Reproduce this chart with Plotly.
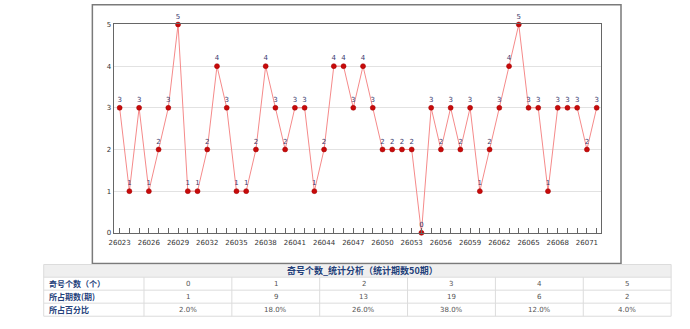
import plotly.graph_objects as go

W, H = 690, 329

periods = [26023, 26024, 26025, 26026, 26027, 26028, 26029, 26030, 26031, 26032,
           26033, 26034, 26035, 26036, 26037, 26038, 26039, 26040, 26041, 26042,
           26043, 26044, 26045, 26046, 26047, 26048, 26049, 26050, 26051, 26052,
           26053, 26054, 26055, 26056, 26057, 26058, 26059, 26060, 26061, 26062,
           26063, 26064, 26065, 26066, 26067, 26068, 26069, 26070, 26071, 26072]
odd_counts = [3, 1, 3, 1, 2, 3, 5, 1, 1, 2,
              4, 3, 1, 1, 2, 4, 3, 2, 3, 3,
              1, 2, 4, 4, 3, 4, 3, 2, 2, 2,
              2, 0, 3, 2, 3, 2, 3, 1, 2, 3,
              4, 5, 3, 3, 1, 3, 3, 3, 2, 3]
tick_periods = [26023, 26026, 26029, 26032, 26035, 26038, 26041, 26044,
                26047, 26050, 26053, 26056, 26059, 26062, 26065, 26068, 26071]

table_title = "奇号个数_统计分析（统计期数50期）"
row_labels = ["奇号个数（个）", "所占期数(期)", "所占百分比"]
count_values = ["0", "1", "2", "3", "4", "5"]
period_counts = ["1", "9", "13", "19", "6", "2"]
percentages = ["2.0%", "18.0%", "26.0%", "38.0%", "12.0%", "4.0%"]


def px(x):
    return x / W


def py(y):
    return 1 - y / H


fig = go.Figure()

fig.add_trace(go.Scatter(
    x=periods, y=odd_counts,
    mode="lines+markers+text",
    text=[str(v) for v in odd_counts],
    textposition="top center",
    textfont=dict(family="DejaVu Sans", size=7, color="#3a3a6e"),
    line=dict(color="#f58a8a", width=1),
    marker=dict(color="#c80a0a", size=5, line=dict(color="#a00000", width=0.5)),
    cliponaxis=False,
    hoverinfo="x+y",
    showlegend=False,
))

# ---- table drawn with shapes + annotations ----
blue = "#23407a"
grid = "#dcdcdc"
tx0, tx1 = 39, 671
label_w = 101
col_w = (tx1 - tx0 - label_w) / 6
col_edges = [tx0, tx0 + label_w] + [tx0 + label_w + col_w * (i + 1) for i in range(6)]
row_edges = [267, 280, 293.3, 306.6, 320]

shapes = [
    # outer chart frame
    dict(type="rect", xref="paper", yref="paper",
         x0=px(88), x1=px(620.5), y0=py(266), y1=py(0.8),
         line=dict(color="#7a7a7a", width=1.5), fillcolor="rgba(0,0,0,0)", layer="below"),
    # table title row background
    dict(type="rect", xref="paper", yref="paper",
         x0=px(tx0), x1=px(tx1), y0=py(row_edges[1]), y1=py(row_edges[0]),
         line=dict(width=0), fillcolor="#efefef", layer="below"),
    # table outer border
    dict(type="rect", xref="paper", yref="paper",
         x0=px(tx0), x1=px(tx1), y0=py(row_edges[-1]), y1=py(row_edges[0]),
         line=dict(color=grid, width=1), fillcolor="rgba(0,0,0,0)", layer="below"),
]
for ry in row_edges[1:-1]:
    shapes.append(dict(type="line", xref="paper", yref="paper",
                       x0=px(tx0), x1=px(tx1), y0=py(ry), y1=py(ry),
                       line=dict(color=grid, width=1), layer="below"))
for cx in col_edges[1:-1]:
    shapes.append(dict(type="line", xref="paper", yref="paper",
                       x0=px(cx), x1=px(cx), y0=py(row_edges[1]), y1=py(row_edges[-1]),
                       line=dict(color=grid, width=1), layer="below"))

annotations = [
    dict(text="<b>" + table_title + "</b>", xref="paper", yref="paper",
         x=px(360), y=py((row_edges[0] + row_edges[1]) / 2), showarrow=False,
         font=dict(family="Noto Sans CJK SC", size=9, color=blue),
         xanchor="center", yanchor="middle"),
]
rows = [count_values, period_counts, percentages]
for r, (lab, vals) in enumerate(zip(row_labels, rows)):
    yc = (row_edges[r + 1] + row_edges[r + 2]) / 2
    annotations.append(dict(text="<b>" + lab + "</b>", xref="paper", yref="paper",
                            x=px(tx0 + 3), y=py(yc), showarrow=False,
                            font=dict(family="Noto Sans CJK SC", size=8, color=blue),
                            xanchor="left", yanchor="middle"))
    for c, v in enumerate(vals):
        xc = (col_edges[c + 1] + col_edges[c + 2]) / 2
        annotations.append(dict(text=v, xref="paper", yref="paper",
                                x=px(xc), y=py(yc), showarrow=False,
                                font=dict(family="DejaVu Sans", size=7, color="#555555"),
                                xanchor="center", yanchor="middle"))

fig.update_layout(
    width=W, height=H, autosize=False,
    margin=dict(l=0, r=0, t=0, b=0),
    paper_bgcolor="white", plot_bgcolor="white",
    shapes=shapes, annotations=annotations,
    xaxis=dict(
        domain=[px(109.5), px(600)],
        range=[26022.39, 26072.41],
        tickvals=tick_periods,
        ticktext=[str(t) for t in tick_periods],
        ticks="inside", ticklen=5, tickcolor="#666666",
        minor=dict(ticks="inside", dtick=1, tick0=26023, ticklen=5, tickcolor="#666666"),
        showgrid=False, zeroline=False,
        showline=True, linecolor="#666666", linewidth=1, mirror=True,
        tickfont=dict(family="DejaVu Sans", size=7, color="#333333"),
        ticklabelstandoff=3,
    ),
    yaxis=dict(
        domain=[py(234.5), py(21)],
        range=[0, 5],
        tickvals=[0, 1, 2, 3, 4, 5],
        showgrid=True, gridcolor="#e2e2e2", gridwidth=1,
        zeroline=False, ticks="",
        showline=True, linecolor="#666666", linewidth=1, mirror=True,
        tickfont=dict(family="DejaVu Sans", size=7, color="#333333"),
    ),
)

fig.write_html("out.html")
